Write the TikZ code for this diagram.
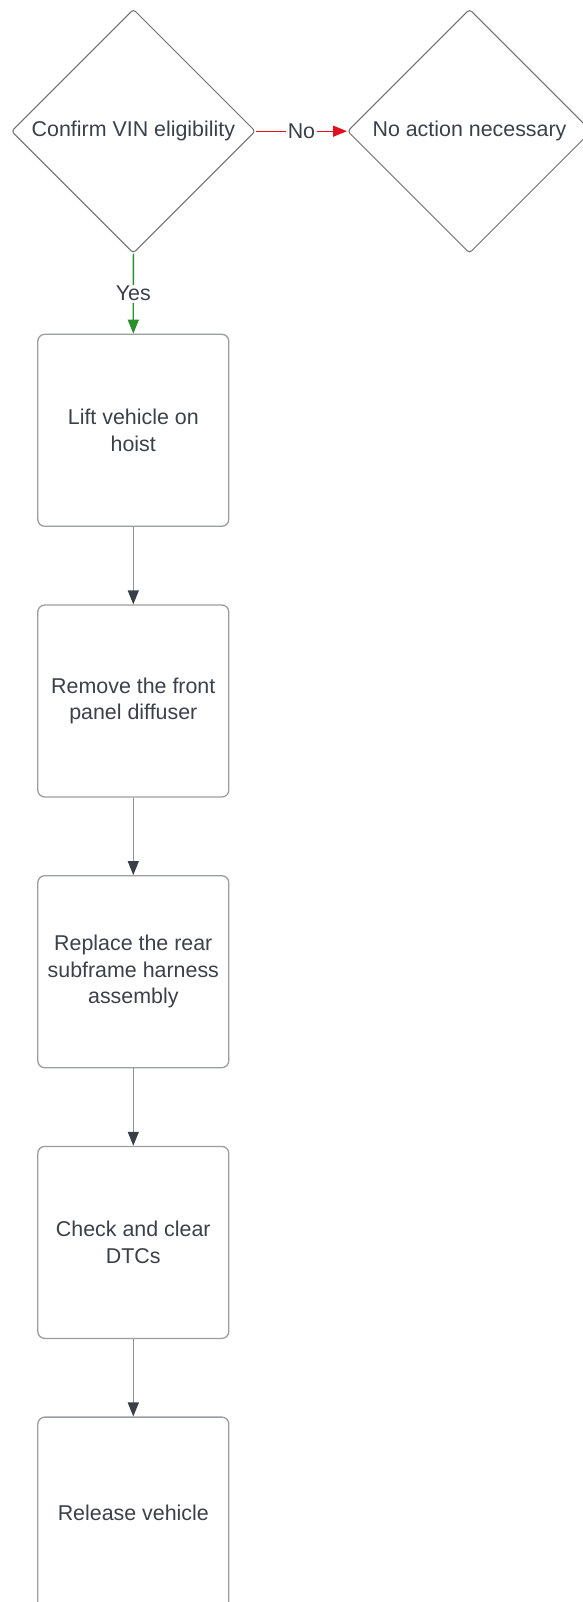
\documentclass[tikz,border=0pt]{standalone}
\usepackage{fontspec}
\setmainfont{Liberation Sans}
\usetikzlibrary{shapes.geometric,arrows.meta}
\definecolor{txt}{HTML}{3B4049}
\definecolor{dborder}{HTML}{6B6E73}
\definecolor{bborder}{HTML}{9A9DA3}
\definecolor{lgray}{HTML}{8C9097}
\definecolor{hdark}{HTML}{3A3F47}
\definecolor{yesgreen}{HTML}{2B8F2B}
\definecolor{nored}{HTML}{E0101E}
\tikzset{
  basefont/.style={font=\fontsize{21.4}{26.5}\selectfont, text=txt},
  decision/.style={basefont, shape=diamond, draw=dborder, line width=1pt,
    minimum width=244pt, minimum height=244pt, inner sep=0pt, rounded corners=3pt, align=center},
  stepbox/.style={basefont, shape=rectangle, draw=bborder, line width=1.3pt,
    minimum width=191pt, minimum height=192pt, rounded corners=7pt, align=center, inner sep=0pt},
  flow/.style={draw=lgray, line width=1.3pt,
    -{Triangle[length=14pt,width=11pt,color=hdark]}},
  yesflow/.style={draw=yesgreen, line width=1.3pt,
    -{Triangle[length=14pt,width=11pt,color=yesgreen]}},
  noflow/.style={draw=nored, line width=1.3pt,
    -{Triangle[length=14pt,width=11pt,color=nored]}},
  lbl/.style={basefont, fill=white, inner sep=1.5pt}
}
\begin{document}
\begin{tikzpicture}[x=1pt,y=-1pt]
\useasboundingbox (0,0) rectangle (582,1602);
\fill[white] (0,0) rectangle (582,1602);
\node[decision] (d1) at (133.4,131.2) {Confirm VIN eligibility};
\node[decision] (d2) at (469.5,131.2) {No action necessary};
\node[stepbox] (b1) at (133.3,430.3) {Lift vehicle on\\hoist};
\node[stepbox] (b2) at (133.3,701.0) {Remove the front\\panel diffuser};
\node[stepbox] (b3) at (133.3,971.7) {Replace the rear\\subframe harness\\assembly};
\node[stepbox] (b4) at (133.3,1242.4) {Check and clear\\DTCs};
\node[stepbox] (b5) at (133.3,1513.1) {Release vehicle};
\draw[noflow] (d1.east) -- node[lbl] {No} (d2.west);
\draw[yesflow] (d1.south) -- node[lbl] {Yes} (b1.north);
\draw[flow] (b1.south) -- (b2.north);
\draw[flow] (b2.south) -- (b3.north);
\draw[flow] (b3.south) -- (b4.north);
\draw[flow] (b4.south) -- (b5.north);
\end{tikzpicture}
\end{document}
